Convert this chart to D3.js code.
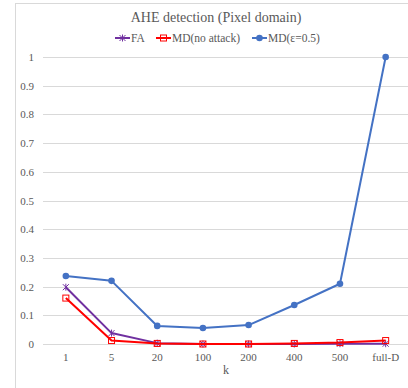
<!DOCTYPE html>
<html>
<head>
<meta charset="utf-8">
<script src="https://cdn.jsdelivr.net/npm/d3@7"></script>
<style>
  html, body { margin: 0; padding: 0; background: #fff; }
  svg { display: block; font-family: "Liberation Serif", "Times New Roman", serif; }
</style>
</head>
<body>
<div id="chart"></div>
<script>
// data
const categories = ["1", "5", "20", "100", "200", "400", "500", "full-D"]
const faValues = [0.198, 0.038, 0.003, 0, 0, 0, 0.001, 0.001]
const mdNoAttack = [0.16, 0.012, 0.002, 0, 0, 0.002, 0.005, 0.012]
const mdEps = [0.237, 0.22, 0.063, 0.056, 0.066, 0.136, 0.21, 1.0]
const yTicks = [0, 0.1, 0.2, 0.3, 0.4, 0.5, 0.6, 0.7, 0.8, 0.9, 1]

const width = 408, height = 388

const svg = d3.select("#chart").append("svg")
  .attr("width", width)
  .attr("height", height)

// chart frame (cropped at the right and bottom)
svg.append("rect")
  .attr("x", 15.5).attr("y", 3.5)
  .attr("width", 420).attr("height", 420)
  .attr("fill", "#fff")
  .attr("stroke", "#d9d9d9")

const x = d3.scaleBand().domain(categories).range([43, 408.5])
const y = d3.scaleLinear().domain([0, 1]).range([344, 57])

// gridlines
svg.append("g")
  .selectAll("line")
  .data(yTicks)
  .join("line")
  .attr("x1", 43).attr("x2", 408)
  .attr("y1", d => Math.round(y(d)) + 0.5)
  .attr("y2", d => Math.round(y(d)) + 0.5)
  .attr("stroke", "#d9d9d9")

// y axis labels
const yAxis = svg.append("g")
  .attr("transform", "translate(43,0)")
  .call(d3.axisLeft(y).tickValues(yTicks).tickSize(0).tickPadding(9).tickFormat(d3.format("~g")))
yAxis.select(".domain").remove()
yAxis.selectAll("text")
  .attr("fill", "#595959")
  .style("font-size", "11px")
  .style("font-family", "Liberation Serif, serif")

// x axis labels
const xAxis = svg.append("g")
  .attr("transform", "translate(0,344)")
  .call(d3.axisBottom(x).tickSize(0).tickPadding(9))
xAxis.select(".domain").remove()
xAxis.selectAll("text")
  .attr("fill", "#595959")
  .style("font-size", "11px")
  .style("font-family", "Liberation Serif, serif")

// axis title
svg.append("text")
  .attr("x", 226).attr("y", 374)
  .attr("text-anchor", "middle")
  .attr("fill", "#595959")
  .style("font-size", "12px")
  .text("k")

// title
svg.append("text")
  .attr("x", 216).attr("y", 22)
  .attr("text-anchor", "middle")
  .attr("fill", "#595959")
  .style("font-size", "14px")
  .text("AHE detection (Pixel domain)")

const series = [
  { name: "FA", values: faValues, color: "#7030a0", marker: "star" },
  { name: "MD(no attack)", values: mdNoAttack, color: "#ff0000", marker: "square" },
  { name: "MD(\u03b5=0.5)", values: mdEps, color: "#4472c4", marker: "circle" }
]

const cx = i => x(categories[i]) + x.bandwidth() / 2

const line = d3.line()
  .x((d, i) => cx(i))
  .y(d => y(d))

function drawMarker(g, type, color) {
  if (type === "circle") {
    g.append("circle").attr("r", 3.3).attr("fill", color)
  } else if (type === "square") {
    g.append("rect")
      .attr("x", -3).attr("y", -3).attr("width", 6).attr("height", 6)
      .attr("fill", "none").attr("stroke", color).attr("stroke-width", 1)
  } else {
    const s = 3
    g.append("path")
      .attr("d", `M${-s},${-s}L${s},${s}M${-s},${s}L${s},${-s}M0,${-s - 0.5}L0,${s + 0.5}`)
      .attr("stroke", color).attr("stroke-width", 1).attr("fill", "none")
  }
}

series.forEach(s => {
  svg.append("path")
    .datum(s.values)
    .attr("d", line)
    .attr("fill", "none")
    .attr("stroke", s.color)
    .attr("stroke-width", 2)
    .attr("stroke-linejoin", "round")
  s.values.forEach((v, i) => {
    const g = svg.append("g").attr("transform", `translate(${cx(i)},${y(v)})`)
    drawMarker(g, s.marker, s.color)
  })
})

// legend
const legendItems = [
  { x: 115, tx: 131 },
  { x: 156, tx: 172 },
  { x: 252, tx: 268 }
]
series.forEach((s, i) => {
  const L = legendItems[i]
  svg.append("line")
    .attr("x1", L.x).attr("x2", L.x + 15)
    .attr("y1", 38).attr("y2", 38)
    .attr("stroke", s.color).attr("stroke-width", 2)
  const g = svg.append("g").attr("transform", `translate(${L.x + 7.5},38)`)
  drawMarker(g, s.marker, s.color)
  svg.append("text")
    .attr("x", L.tx).attr("y", 42)
    .attr("fill", "#595959")
    .style("font-size", "11.5px")
    .text(s.name)
})
</script>
</body>
</html>
